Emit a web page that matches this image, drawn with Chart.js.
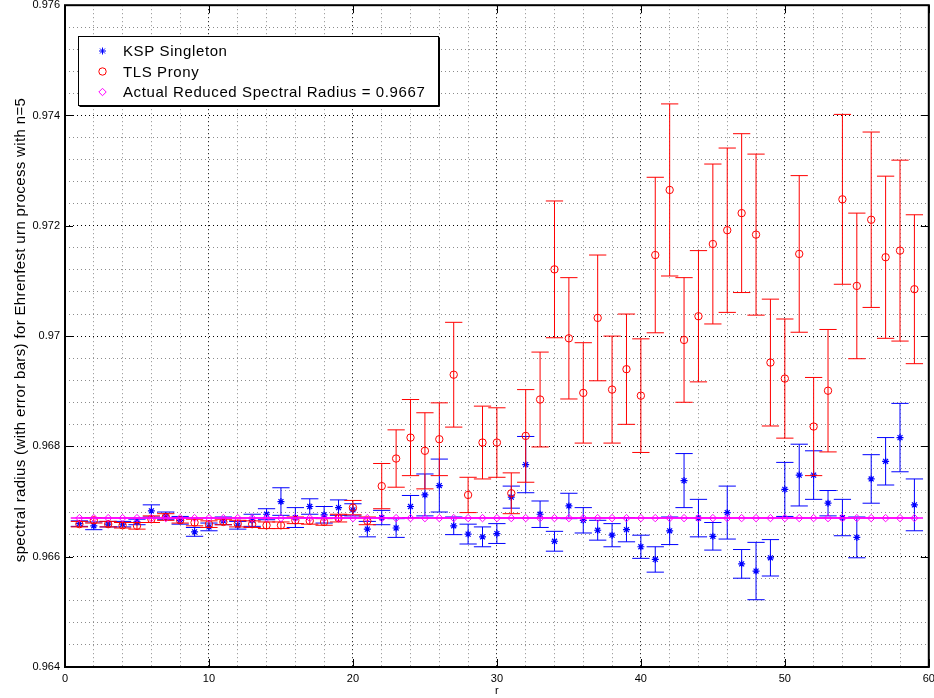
<!DOCTYPE html>
<html><head><meta charset="utf-8">
<script src="https://cdn.jsdelivr.net/npm/chart.js@4/dist/chart.umd.min.js"></script>
<style>html,body{margin:0;padding:0;background:#fff;}canvas{display:block}</style>
</head><body>
<canvas id="c" width="934" height="698"></canvas>
<script>
const rValues = [1,2,3,4,5,6,7,8,9,10,11,12,13,14,15,16,17,18,19,20,21,22,23,24,25,26,27,28,29,30,
  31,32,33,34,35,36,37,38,39,40,41,42,43,44,45,46,47,48,49,50,51,52,53,54,55,56,57,58,59];

const kspValues = [0.96660,0.96656,0.96659,0.96659,0.96663,0.96683,0.96674,0.96666,0.96645,0.96654,
  0.96665,0.96657,0.96666,0.96677,0.96700,0.96671,0.96691,0.96676,0.96689,0.96685,
  0.96650,0.96671,0.96652,0.96691,0.96712,0.96729,0.96656,0.96641,0.96636,0.96642,
  0.96708,0.96767,0.96677,0.96628,0.96692,0.96666,0.96648,0.96639,0.96649,0.96618,
  0.96595,0.96647,0.96738,0.96670,0.96637,0.96680,0.96587,0.96574,0.96598,0.96722,
  0.96748,0.96748,0.96697,0.96671,0.96635,0.96741,0.96773,0.96816,0.96694];

const kspErrors = [0.00005,0.00007,0.00005,0.00005,0.00005,0.00011,0.00007,0.00007,0.00008,0.00007,
  0.00007,0.00007,0.00011,0.00010,0.00025,0.00018,0.00014,0.00015,0.00014,0.00011,
  0.00014,0.00013,0.00017,0.00020,0.00038,0.00048,0.00016,0.00018,0.00018,0.00018,
  0.00020,0.00051,0.00024,0.00018,0.00023,0.00023,0.00018,0.00021,0.00022,0.00021,
  0.00023,0.00025,0.00049,0.00034,0.00025,0.00048,0.00026,0.00052,0.00033,0.00049,
  0.00056,0.00044,0.00023,0.00033,0.00037,0.00044,0.00043,0.00062,0.00047];

const tlsValues = [0.96659,0.96666,0.96659,0.96657,0.96656,0.96668,0.96672,0.96666,0.96662,0.96659,
  0.96663,0.96660,0.96659,0.96657,0.96657,0.96666,0.96665,0.96663,0.96670,0.96689,
  0.96665,0.96728,0.96778,0.96816,0.96792,0.96813,0.96930,0.96712,0.96807,0.96807,
  0.96715,0.96819,0.96885,0.97121,0.96996,0.96897,0.97033,0.96903,0.96940,0.96892,
  0.97147,0.97265,0.96993,0.97036,0.97167,0.97192,0.97223,0.97184,0.96952,0.96923,
  0.97149,0.96836,0.96901,0.97248,0.97091,0.97211,0.97143,0.97155,0.97085];

const tlsErrors = [0.00005,0.00005,0.00005,0.00005,0.00006,0.00006,0.00006,0.00005,0.00006,0.00006,
  0.00005,0.00006,0.00006,0.00006,0.00006,0.00006,0.00006,0.00006,0.00007,0.00013,
  0.00007,0.00041,0.00052,0.00069,0.00069,0.00066,0.00095,0.00032,0.00066,0.00063,
  0.00037,0.00084,0.00086,0.00124,0.00110,0.00091,0.00114,0.00097,0.00100,0.00103,
  0.00141,0.00156,0.00113,0.00119,0.00145,0.00149,0.00144,0.00146,0.00115,0.00108,
  0.00142,0.00089,0.00111,0.00154,0.00132,0.00159,0.00147,0.00164,0.00135];

const actualValues = [0.9667,0.9667,0.9667,0.9667,0.9667,0.9667,0.9667,0.9667,0.9667,0.9667,
  0.9667,0.9667,0.9667,0.9667,0.9667,0.9667,0.9667,0.9667,0.9667,0.9667,
  0.9667,0.9667,0.9667,0.9667,0.9667,0.9667,0.9667,0.9667,0.9667,0.9667,
  0.9667,0.9667,0.9667,0.9667,0.9667,0.9667,0.9667,0.9667,0.9667,0.9667,
  0.9667,0.9667,0.9667,0.9667,0.9667,0.9667,0.9667,0.9667,0.9667,0.9667,
  0.9667,0.9667,0.9667,0.9667,0.9667,0.9667,0.9667,0.9667,0.9667];
const actualErrors = actualValues.map(() => 0);

const seriesLabels = ['KSP Singleton', 'TLS Prony', 'Actual Reduced Spectral Radius = 0.9667'];
const xTitle = 'r';
const yTitle = 'spectral radius (with error bars) for Ehrenfest urn process with n=5';
const xMajorTicks = [0,10,20,30,40,50,60];
const yMajorTicks = [0.964,0.966,0.968,0.970,0.972,0.974,0.976];

const FONT = '"Liberation Sans", Arial, Helvetica, sans-serif';
const CAP_HALF = 0.6;

function toPoints(vals) { return rValues.map((r, i) => ({ x: r, y: vals[i] })); }
function isMajorY(v) { return yMajorTicks.some(t => Math.abs(t - v) < 1e-7); }
function isMajorX(v) { return xMajorTicks.some(t => Math.abs(t - v) < 1e-7); }

const errorBarPlugin = {
  id: 'errorBars',
  beforeDatasetDraw(chart, args) {
    const ds = chart.data.datasets[args.index];
    if (!ds.errors) return;
    const xs = chart.scales.x, ys = chart.scales.y, ctx = chart.ctx, a = chart.chartArea;
    ctx.save();
    ctx.beginPath(); ctx.rect(a.left, a.top, a.right - a.left, a.bottom - a.top); ctx.clip();
    ctx.strokeStyle = ds.borderColor;
    ctx.lineWidth = ds.errorLineWidth || 1;
    ctx.beginPath();
    ds.data.forEach((p, i) => {
      const e = ds.errors[i];
      const x = xs.getPixelForValue(p.x);
      const x0 = xs.getPixelForValue(p.x - CAP_HALF), x1 = xs.getPixelForValue(p.x + CAP_HALF);
      const yt = ys.getPixelForValue(p.y + e);
      const yb = ys.getPixelForValue(p.y - e);
      if (e > 0) { ctx.moveTo(x, yt); ctx.lineTo(x, yb); }
      ctx.moveTo(x0, yt); ctx.lineTo(x1, yt);
      ctx.moveTo(x0, yb); ctx.lineTo(x1, yb);
    });
    ctx.stroke();
    ctx.restore();
  }
};

const framePlugin = {
  id: 'frame',
  afterDatasetsDraw(chart) {
    const ctx = chart.ctx, a = chart.chartArea, xs = chart.scales.x, ys = chart.scales.y;
    ctx.save();
    ctx.strokeStyle = '#000';
    ctx.lineWidth = 1;
    ctx.beginPath();
    const TL = 8;
    xMajorTicks.forEach(t => {
      const x = Math.round(xs.getPixelForValue(t)) + 0.5;
      ctx.moveTo(x, a.bottom); ctx.lineTo(x, a.bottom - TL);
      ctx.moveTo(x, a.top); ctx.lineTo(x, a.top + TL);
    });
    yMajorTicks.forEach(t => {
      const y = Math.round(ys.getPixelForValue(t)) + 0.5;
      ctx.moveTo(a.left, y); ctx.lineTo(a.left + TL, y);
      ctx.moveTo(a.right, y); ctx.lineTo(a.right - TL, y);
    });
    ctx.stroke();
    ctx.lineWidth = 2;
    ctx.strokeRect(a.left, a.top, a.right - a.left, a.bottom - a.top);
    ctx.restore();
  },
  afterDraw(chart) {
    const ctx = chart.ctx, a = chart.chartArea;
    // y axis title
    ctx.save();
    ctx.translate(21, 330);
    ctx.rotate(-Math.PI / 2);
    ctx.fillStyle = '#000';
    ctx.font = '15px ' + FONT;
    try { ctx.letterSpacing = '0.35px'; } catch (e) {}
    ctx.textAlign = 'center';
    ctx.textBaseline = 'middle';
    ctx.fillText(yTitle, 0, 0);
    ctx.restore();

    // legend
    const bx = 78.5, by = 36.5, bw = 360, bh = 69;
    ctx.save();
    ctx.fillStyle = '#fff';
    ctx.fillRect(bx, by, bw, bh);
    ctx.strokeStyle = '#000';
    ctx.lineWidth = 1;
    ctx.strokeRect(bx, by, bw, bh);
    ctx.beginPath();
    ctx.moveTo(bx + 1, by + bh + 1); ctx.lineTo(bx + bw + 1, by + bh + 1); ctx.lineTo(bx + bw + 1, by + 1);
    ctx.stroke();
    const rows = [51, 71.5, 92];
    chart.data.datasets.forEach((ds, i) => {
      const y = rows[i];
      ctx.save();
      ctx.strokeStyle = ds.borderColor;
      ctx.fillStyle = 'rgba(0,0,0,0)';
      ctx.lineWidth = 1;
      Chart.helpers.drawPoint(ctx, { pointStyle: ds.pointStyle, radius: ds.pointRadius, rotation: 0, borderWidth: 1 }, 102.5, y);
      ctx.restore();
      ctx.save();
      ctx.fillStyle = '#000';
      ctx.font = '15px ' + FONT;
      try { ctx.letterSpacing = '0.6px'; } catch (e) {}
      ctx.textBaseline = 'middle';
      ctx.textAlign = 'left';
      ctx.fillText(seriesLabels[i], 123, y + 1);
      ctx.restore();
    });
    ctx.restore();
  }
};

new Chart(document.getElementById('c'), {
  type: 'scatter',
  data: {
    datasets: [
      { label: seriesLabels[0], data: toPoints(kspValues), errors: kspErrors, order: 2,
        borderColor: '#0000ff', backgroundColor: 'rgba(0,0,0,0)', pointStyle: 'star', pointRadius: 3.5,
        pointBorderWidth: 1.2, showLine: false },
      { label: seriesLabels[1], data: toPoints(tlsValues), errors: tlsErrors, order: 1,
        borderColor: '#ff0000', backgroundColor: 'rgba(0,0,0,0)', pointStyle: 'circle', pointRadius: 3.7,
        pointBorderWidth: 1, showLine: false },
      { label: seriesLabels[2], data: toPoints(actualValues), errors: actualErrors, order: 0, errorLineWidth: 1.5,
        borderColor: '#ff00ff', backgroundColor: 'rgba(0,0,0,0)', pointStyle: 'rectRot', pointRadius: 3.7,
        pointBorderWidth: 1, showLine: true, borderWidth: 1.5 }
    ]
  },
  options: {
    responsive: false,
    animation: false,
    devicePixelRatio: 1,
    layout: { padding: { left: 0, right: 5, top: 5, bottom: 0 } },
    plugins: { legend: { display: false }, tooltip: { enabled: false } },
    scales: {
      x: {
        type: 'linear', min: 0, max: 60,
        afterFit: s => { s.height = 31; s.paddingLeft = 0; s.paddingRight = 0; },
        ticks: { stepSize: 2, autoSkip: false, maxRotation: 0, padding: 5, color: '#000',
          font: { family: FONT, size: 11 },
          callback: v => isMajorX(v) ? String(Math.round(v)) : '' },
        grid: { color: c => (c.tick && isMajorX(c.tick.value)) ? '#000' : '#8c8c8c', lineWidth: 1, drawTicks: false },
        border: { display: false, dash: [1, 3] },
        title: { display: true, text: xTitle, color: '#000', font: { family: FONT, size: 11 }, padding: { top: 0, bottom: 0 } }
      },
      y: {
        type: 'linear', min: 0.964, max: 0.976,
        afterFit: s => { s.width = 65; s.paddingTop = 0; s.paddingBottom = 0; },
        ticks: { stepSize: 0.0004, autoSkip: false, padding: 5, color: '#000',
          font: { family: FONT, size: 11 },
          callback: v => isMajorY(v) ? String(Number(v.toFixed(3))) : '' },
        grid: { color: c => (c.tick && isMajorY(c.tick.value)) ? '#000' : '#8c8c8c', lineWidth: 1, drawTicks: false },
        border: { display: false, dash: [1, 3] },
        title: { display: false }
      }
    }
  },
  plugins: [errorBarPlugin, framePlugin]
});
</script>
</body></html>
